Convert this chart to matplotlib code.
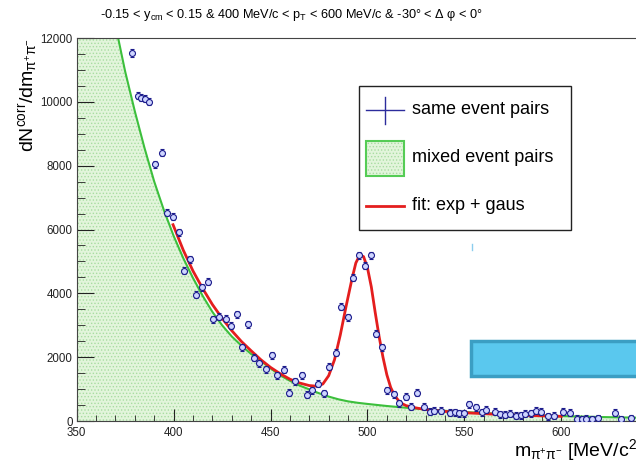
import matplotlib
matplotlib.use('Agg')
import matplotlib.pyplot as plt
from matplotlib.patches import Rectangle
from matplotlib.lines import Line2D
from matplotlib.ticker import MultipleLocator

plt.rcParams['font.family'] = ['Liberation Sans', 'DejaVu Sans']
plt.rcParams['mathtext.fontset'] = 'custom'
plt.rcParams['mathtext.rm'] = 'Liberation Sans'
plt.rcParams['mathtext.it'] = 'Liberation Sans:italic'
plt.rcParams['hatch.linewidth'] = 0.6

# same event pairs (m in MeV/c^2, counts)
same_m = [378.5, 381.4, 383.1, 385.2, 387.1, 390.5, 393.8, 396.4, 399.5, 402.9,
          405.5, 408.4, 411.3, 414.6, 417.5, 420.4, 423.5, 427.0, 429.5, 432.5,
          435.1, 438.5, 441.5, 444.0, 447.6, 450.5, 453.4, 456.9, 459.6, 462.5,
          466.0, 468.6, 471.6, 474.5, 477.5, 480.2, 483.7, 486.6, 490.0, 492.6,
          495.5, 498.6, 501.7, 504.3, 507.7, 510.1, 513.6, 516.3, 519.7, 522.7,
          525.6, 529.0, 532.1, 534.5, 538.0, 542.4, 545.0, 547.1, 550.0, 552.4,
          556.2, 559.0, 561.3, 565.6, 568.5, 571.0, 573.3, 576.4, 579.0, 581.1,
          584.5, 587.1, 589.7, 593.0, 596.0, 600.8, 604.3, 608.0, 610.5, 613.0,
          616.0, 619.0, 627.5, 631.0, 636.0]
same_n = [11530, 10190, 10130, 10090, 10000, 8050, 8400, 6530, 6400, 5910,
          4710, 5075, 3950, 4190, 4365, 3190, 3270, 3200, 2980, 3350,
          2310, 3030, 1980, 1810, 1620, 2060, 1440, 1600, 890, 1250,
          1440, 815, 970, 1160, 870, 1700, 2140, 3580, 3250, 4490,
          5200, 4860, 5200, 2730, 2310, 970, 845, 555, 760, 450,
          890, 450, 290, 320, 320, 260, 280, 240, 250, 530,
          430, 280, 345, 290, 210, 190, 220, 160, 180, 220,
          240, 320, 290, 150, 160, 290, 260, 70, 60, 70,
          60, 80, 260, 50, 80]

# mixed event pairs (normalised)
mix_m = [350, 355, 360, 365, 370, 375, 380, 385, 390, 395, 400, 405, 410, 415,
         420, 425, 430, 435, 440, 445, 450, 455, 460, 465, 470, 475, 480, 485,
         490, 495, 500, 510, 520, 530, 540, 550, 560, 570, 580, 590, 600, 620, 642]
mix_n = [23500, 19700, 16600, 14200, 12400, 10950, 9700, 8550, 7500, 6600,
         5800, 5100, 4480, 3920, 3420, 3000, 2650, 2360, 2100, 1880,
         1650, 1430, 1260, 1110, 990, 870, 765, 680, 615, 570,
         535, 470, 415, 365, 320, 280, 250, 220, 195, 175, 155, 125, 100]

# fit: exp + gaus
fit_m = [399.7, 405, 410, 415, 420, 425, 430, 435, 440, 445, 450, 455, 460, 465,
         470, 474, 477, 480, 483, 486, 489, 492, 494, 496, 498, 500, 502, 504,
         506, 508, 510, 512, 514, 516, 518, 520, 525, 530, 540, 550, 560, 570,
         580, 590, 600]
fit_n = [6150, 5350, 4700, 4150, 3650, 3220, 2830, 2490, 2200, 1920, 1680, 1480,
         1310, 1190, 1110, 1090, 1160, 1420, 1920, 2700, 3600, 4450, 4950, 5200,
         5150, 4800, 4200, 3400, 2650, 2000, 1450, 1050, 800, 640, 540, 480,
         410, 360, 300, 260, 230, 200, 180, 160, 145]

W, H = 636, 472


def fx(x):
    return x / W


def fy(y):
    return 1 - y / H


fig = plt.figure(figsize=(W / 100, H / 100), dpi=100)
ax = fig.add_axes([76.7 / W, 51 / H, 566 / W, 383 / H])

ax.fill_between(mix_m, mix_n, color='#e2f5db', lw=0)
ax.fill_between(mix_m, mix_n, facecolor='none', edgecolor='#a9dda2', hatch='.....', lw=0)
ax.plot(mix_m, mix_n, color='#3cbf3c', lw=1.5)
ax.plot(fit_m, fit_n, color='#e41e1e', lw=2)
ax.errorbar(same_m, same_n, xerr=1, yerr=110, fmt='o', ms=4.3, mfc='#cfd6ff', mec='#1c1c8c',
            mew=0.8, ecolor='#1c1c8c', elinewidth=0.9, capsize=1.5, capthick=0.9, zorder=5)

ax.set_xlim(350, 642)
ax.set_ylim(0, 12000)
ax.xaxis.set_major_locator(MultipleLocator(50))
ax.xaxis.set_minor_locator(MultipleLocator(10))
ax.yaxis.set_major_locator(MultipleLocator(2000))
ax.yaxis.set_minor_locator(MultipleLocator(500))
ax.tick_params(axis='both', which='both', direction='in', labelsize=8.3, colors='#222222')
ax.tick_params(axis='x', which='major', length=8.5, pad=4)
ax.tick_params(axis='x', which='minor', length=4.3)
ax.tick_params(axis='y', which='major', length=12, pad=3)
ax.tick_params(axis='y', which='minor', length=6)
for s in ax.spines.values():
    s.set_color('#444444')

ax.set_xlabel(r'$\mathregular{m_{\pi^{+}\pi^{-}}}$ [MeV/c$\mathregular{^{2}}$]', fontsize=14, loc='right', labelpad=-1)
ax.set_ylabel(r'$\mathregular{dN^{corr}/dm_{\pi^{+}\pi^{-}}}$', fontsize=14, loc='top', labelpad=1)

fig.text(fx(292), fy(15), r'-0.15 < $\mathregular{y_{cm}}$ < 0.15 & 400 MeV/c < $\mathregular{p_{T}}$ < 600 MeV/c & -30° < Δ φ < 0°',
         ha='center', va='center', fontsize=9.2)

# legend box
fig.add_artist(Rectangle((fx(359), fy(230)), 212 / W, 144 / H, transform=fig.transFigure,
                         fc='white', ec='#222222', lw=1, zorder=10))
fig.add_artist(Line2D([fx(366), fx(404)], [fy(110), fy(110)], color='#2c2c9c', lw=1, zorder=11))
fig.add_artist(Line2D([fx(385), fx(385)], [fy(97), fy(124)], color='#2c2c9c', lw=1, zorder=11))
fig.add_artist(Rectangle((fx(366), fy(176)), 38 / W, 35 / H, transform=fig.transFigure,
                         fc='#e2f5db', ec='#a9dda2', hatch='.....', lw=0, zorder=11))
fig.add_artist(Rectangle((fx(366), fy(176)), 38 / W, 35 / H, transform=fig.transFigure,
                         fc='none', ec='#55cc55', lw=1.5, zorder=12))
fig.add_artist(Line2D([fx(366), fx(404)], [fy(206), fy(206)], color='#e41e1e', lw=2, zorder=11))
for label, yy in [('same event pairs', 110), ('mixed event pairs', 158), ('fit: exp + gaus', 206)]:
    fig.text(fx(412), fy(yy), label, ha='left', va='center', fontsize=13, zorder=12)

# overlay shape from the slide
fig.add_artist(Rectangle((fx(471), fy(376)), 200 / W, 35 / H, transform=fig.transFigure,
                         fc='#5ac8ee', ec='#3b9ec3', lw=2.5, zorder=10))
fig.add_artist(Line2D([fx(472), fx(472)], [fy(244), fy(250)], color='#8ccdee', lw=1, zorder=10))

fig.savefig('out.png', dpi=100)
